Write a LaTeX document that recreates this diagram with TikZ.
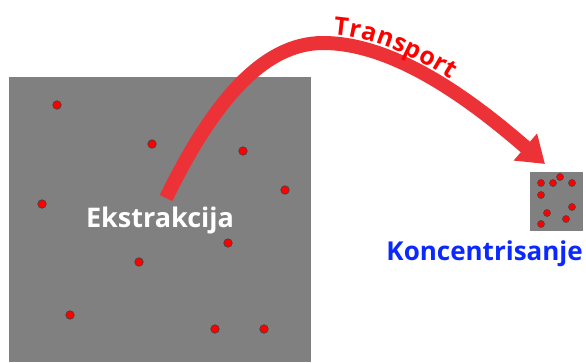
\documentclass[tikz,border=0pt]{standalone}
\usepackage{fontspec}
\setmainfont{Open Sans}
\usetikzlibrary{arrows.meta,decorations.text}
\definecolor{boxgray}{RGB}{128,128,128}
\definecolor{arrowred}{RGB}{237,50,55}
\definecolor{txtred}{RGB}{255,0,0}
\definecolor{txtblue}{RGB}{10,40,255}
\definecolor{dotred}{RGB}{255,0,0}
\definecolor{dotedge}{RGB}{64,64,64}
\tikzset{
  region/.style={fill=boxgray, draw=none},
  particle/.style={circle, fill=dotred, draw=dotedge, line width=0.6pt, minimum size=8.5pt, inner sep=0pt},
  smallparticle/.style={circle, fill=dotred, draw=dotedge, line width=0.5pt, minimum size=7pt, inner sep=0pt},
  flow/.style={draw=arrowred, line width=14pt, -{Triangle[length=26pt,width=34pt]}},
  lbl/.style={font=\fontsize{27}{30}\selectfont\bfseries, inner sep=0pt}
}
\begin{document}
\begin{tikzpicture}[x=1pt,y=-1pt]
\useasboundingbox (0,0) rectangle (586,362);
% large extraction region
\path[region] (9,77) rectangle (311,362);
% small concentrated region
\path[region] (530,172) rectangle (583,231);
% particles in large region
\foreach \px/\py [count=\i] in {57/105,152/144,243/151,285/190,42/204,228/243,139/262,70/315,215/329,264/329}
  \node[particle] (p\i) at (\px,\py) {};
% particles in small region
\foreach \px/\py [count=\i] in {541/183,553/183,560/177,572/183,541/195,572/207,547/213,566/219,541/224}
  \node[smallparticle] (q\i) at (\px,\py) {};
% labels
\node[lbl, text=white] (ext) at (160,220) {Ekstrakcija};
\node[lbl, font=\fontsize{26}{29}\selectfont\bfseries, text=txtblue, anchor=east] (kon) at (583,254) {Koncentrisanje};
\coordinate (start) at (166,198);
\coordinate (peak) at (323,43);
\coordinate (tip) at (545,164);
% transport arrow
\draw[flow] (start) .. controls (212,104) and (262,43) .. (peak)
  .. controls (398,43) and (478,106) .. (tip);
% Transport label along the curve
\path[postaction={decorate}, decoration={text along path, raise=9pt,
  text align={left indent=9pt},
  text={|\fontsize{25}{28}\selectfont\bfseries\color{txtred}|Transport}}]
  (peak) .. controls (398,43) and (478,106) .. (tip);
\end{tikzpicture}
\end{document}
